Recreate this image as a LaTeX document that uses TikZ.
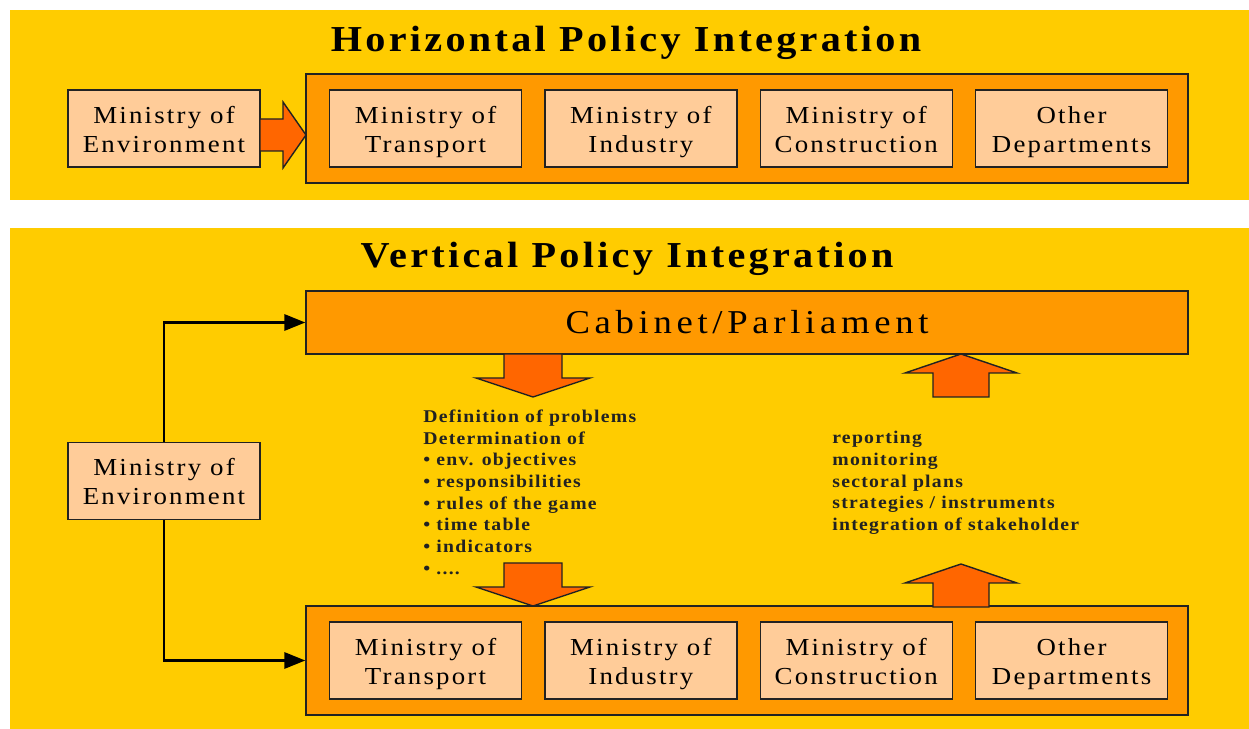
\documentclass[tikz,border=0pt]{standalone}
\usepackage{fontspec}
\setmainfont{Liberation Serif}[FakeStretch=1.1]
\usetikzlibrary{positioning,arrows.meta}

\definecolor{panel}{HTML}{FFCC00}
\definecolor{frame}{HTML}{FF9900}
\definecolor{office}{HTML}{FFCC99}
\definecolor{push}{HTML}{FF6600}
\definecolor{ink}{HTML}{222222}

\begin{document}
\begin{tikzpicture}[x=0.02cm,y=-0.02cm,node distance=4.4mm,
ministry/.style={
% The shape:
rectangle,minimum width=38.4mm,minimum height=15.4mm,inner sep=0pt,
% The border and filling:
draw=ink,line width=0.8pt,fill=office,
% Font
align=center,font=\fontsize{13.9}{16.5}\selectfont\addfontfeatures{LetterSpace=9},
% same text position in every box
execute at begin node={\rule{0pt}{32pt}},execute at end node=\strut
},
group/.style={
rectangle,minimum width=176.4mm,inner sep=0pt,
draw=ink,line width=0.8pt,fill=frame},
heading/.style={anchor=base,
font=\fontsize{20.8}{24}\selectfont\bfseries\addfontfeatures{LetterSpace=9}},
notes/.style={anchor=north west,align=left,inner sep=0pt,text=ink,
font=\fontsize{10.2}{12.35}\selectfont\bfseries\addfontfeatures{LetterSpace=7}},
fat/.style={draw=ink,line width=0.8pt,fill=push},
link/.style={line width=1.7pt,-{Triangle[length=4.2mm,width=3.2mm]}},
% block arrows, tip at the origin
pics/downarrow/.style={code={
\draw[fat] (-29,-43) -- (29,-43) -- (29,-19) -- (57,-19) -- (0,0)
 -- (-57,-19) -- (-29,-19) -- cycle;}},
pics/uparrow/.style={code={
\draw[fat] (-28,43) -- (28,43) -- (28,19) -- (56,19) -- (0,0)
 -- (-56,19) -- (-28,19) -- cycle;}},
pics/rightarrow/.style={code={
\draw[fat] (-46,-16) -- (-23,-16) -- (-23,-33) -- (0,0)
 -- (-23,33) -- (-23,16) -- (-46,16) -- cycle;}}
]
\useasboundingbox (0,0) rectangle (1249,729);
\fill[white] (0,0) rectangle (1249,729);

% horizontal integration
\fill[panel] (10,10) rectangle (1249,200);
\node (htitle) [heading] at (626,52) {Horizontal Policy Integration};

\node (rowH) [group,minimum height=21.8mm] at (747,128.5) {};
\node (transH) [ministry] at (425.5,128.5) {Ministry of\\Transport};
\node (industryH) [ministry,right=of transH] {Ministry of\\Industry};
\node (constrH) [ministry,right=of industryH] {Ministry of\\Construction};
\node (otherH) [ministry,right=of constrH] {Other\\Departments};

\node (envH) [ministry] at (164,128.5) {Ministry of\\Environment};
\pic at (306,135) {rightarrow};

% vertical integration
\fill[panel] (10,228) rectangle (1249,729);
\node (vtitle) [heading] at (627,268) {Vertical Policy Integration};

\node (cab) [group,minimum height=12.6mm,
 font=\fontsize{19}{22}\selectfont\addfontfeatures{LetterSpace=14}]
 at (747,322.5) {Cabinet/Parliament};

\node (rowV) [group,minimum height=21.8mm] at (747,660.5) {};
\node (transV) [ministry] at (425.5,660.5) {Ministry of\\Transport};
\node (industryV) [ministry,right=of transV] {Ministry of\\Industry};
\node (constrV) [ministry,right=of industryV] {Ministry of\\Construction};
\node (otherV) [ministry,right=of constrV] {Other\\Departments};

\node (envV) [ministry] at (164,481) {Ministry of\\Environment};
\draw[link] (envV.north) |- (cab.west);
\draw[link] (envV.south) |- (rowV.west);

\pic at (533,397) {downarrow};
\pic at (533,606) {downarrow};
\pic at (961,354) {uparrow};
\pic at (961,564) {uparrow};

\node (topdown) [notes] at (423,409.5) {Definition of problems\\Determination of\\
\textbullet{} env. objectives\\\textbullet{} responsibilities\\
\textbullet{} rules of the game\\\textbullet{} time table\\
\textbullet{} indicators\\\textbullet{} ....};
\node (bottomup) [notes] at (832,431) {reporting\\monitoring\\sectoral plans\\
strategies / instruments\\integration of stakeholder};
\end{tikzpicture}
\end{document}
